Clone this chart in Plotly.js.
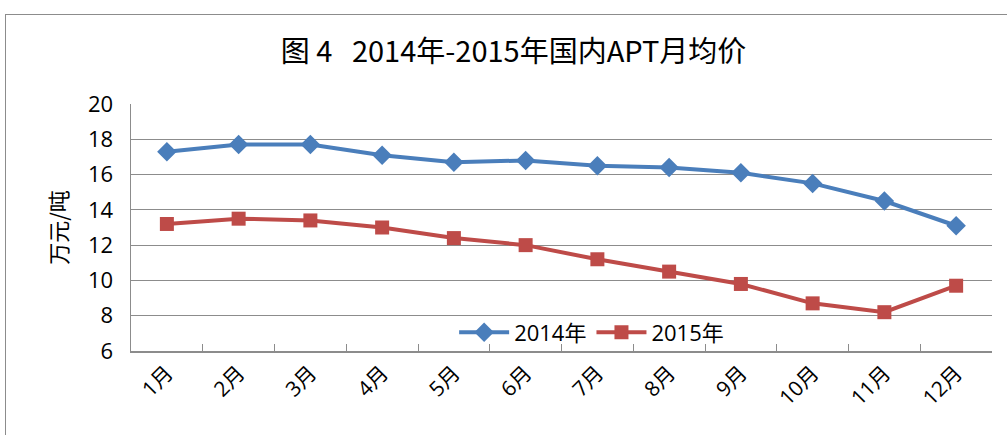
<!DOCTYPE html>
<html>
<head>
<meta charset="utf-8">
<script src="https://cdn.plot.ly/plotly-3.0.1.min.js"></script>
<style>
html,body{margin:0;padding:0;background:#fff;overflow:hidden;}
#frame{position:absolute;left:5px;top:14px;width:1020px;height:440px;border:1.5px solid #8c8c8c;box-sizing:border-box;}
#chart{position:absolute;left:0;top:0;width:1007px;height:435px;}
</style>
</head>
<body>
<div id="frame"></div>
<div id="chart"></div>
<script>
const months = ["1月","2月","3月","4月","5月","6月","7月","8月","9月","10月","11月","12月"];
const price2014 = [17.3,17.7,17.7,17.1,16.7,16.8,16.5,16.4,16.1,15.5,14.5,13.1];
const price2015 = [13.2,13.5,13.4,13.0,12.4,12.0,11.2,10.5,9.8,8.7,8.2,9.7];
const yTicks = [6,8,10,12,14,16,18,20];

const font = "Open Sans, Noto Sans CJK SC, sans-serif";
const traces = [
  {x: months, y: price2014, name: "2014年", type: "scatter", mode: "lines+markers",
   line: {color: "#4A7EBB", width: 4}, marker: {symbol: "diamond", size: 15, color: "#4A7EBB"}},
  {x: months, y: price2015, name: "2015年", type: "scatter", mode: "lines+markers",
   line: {color: "#BE4B48", width: 4}, marker: {symbol: "square", size: 14, color: "#BE4B48"}}
];
const layout = {
  width: 1007, height: 435,
  margin: {l: 131, r: 15, t: 104, b: 84},
  paper_bgcolor: "rgba(0,0,0,0)", plot_bgcolor: "rgba(0,0,0,0)",
  title: {text: "图 4   2014年-2015年国内APT月均价", x: 0.51, xanchor: "center", y: 0.88, yanchor: "middle",
          font: {family: "Noto Sans CJK SC, sans-serif", size: 29, color: "#000"}},
  showlegend: true,
  legend: {orientation: "h", x: 0.535, xanchor: "center", y: -0.01, yanchor: "bottom",
           font: {family: font, size: 22, color: "#000"}, bgcolor: "rgba(0,0,0,0)", traceorder: "normal",
           itemwidth: 50},
  xaxis: {type: "category", showgrid: false, showline: true, linecolor: "#8c8c8c", linewidth: 1.5,
          ticks: "inside", ticklen: 7, tickcolor: "#8c8c8c", tickson: "boundaries",
          tickangle: -45, tickfont: {family: font, size: 21, color: "#000"}, range: [-0.5, 11.5]},
  yaxis: {range: [6, 20], tickvals: yTicks, showgrid: true, gridcolor: "#8c8c8c", gridwidth: 1.2,
          showline: true, linecolor: "#8c8c8c", linewidth: 1.5, zeroline: false, ticks: "",
          ticklabelstandoff: 12,
          tickfont: {family: font, size: 22, color: "#000"},
          title: {text: "万元/吨", standoff: 14, font: {family: "Noto Sans CJK SC, sans-serif", size: 22, color: "#000"}}}
};
Plotly.newPlot("chart", traces, layout, {displayModeBar: false, staticPlot: true});
</script>
</body>
</html>
